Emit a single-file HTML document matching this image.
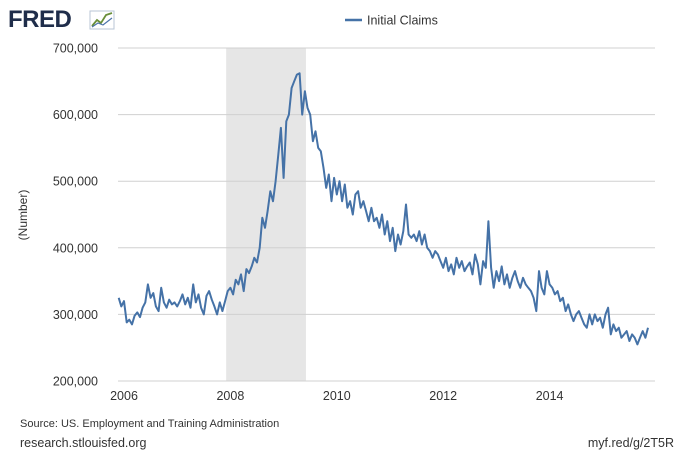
<!DOCTYPE html>
<html><head><meta charset="utf-8"><style>
body{margin:0;background:#fff;font-family:"Liberation Sans",sans-serif;}
svg{display:block}
</style></head><body>
<svg id="chart" width="680" height="451">
<g>
<text x="8" y="27" font-size="24" font-weight="bold" fill="#1f2d4a" font-family="Liberation Sans, sans-serif" letter-spacing="-0.5">FRED</text>
<rect x="90" y="11" width="24" height="18" fill="#fff" stroke="#b8c6d6" stroke-width="1"/>
<polyline points="92,26 97,20 101,23 106,15 112,13" fill="none" stroke="#6a8f3a" stroke-width="1.8"/>
<polyline points="92,27 98,23 103,25 112,18" fill="none" stroke="#4a72a8" stroke-width="1.2"/>
</g>
<g>
<line x1="345" y1="20" x2="362" y2="20" stroke="#4572a7" stroke-width="2.5"/>
<text x="367" y="24.5" font-size="12.5" fill="#333">Initial Claims</text>
</g>
<rect id="rec" fill="#e6e6e6"/>
<g id="grid"></g>
<g id="ylab"></g>
<g id="xlab"></g>
<text transform="translate(27,215) rotate(-90)" text-anchor="middle" font-size="12" fill="#333">(Number)</text>
<path id="line" fill="none" stroke="#4572a7" stroke-width="2" stroke-linejoin="round"/>
<text x="20" y="427" font-size="11" fill="#333">Source: US. Employment and Training Administration</text>
<text x="20" y="447" font-size="12.5" fill="#333">research.stlouisfed.org</text>
<text x="674" y="447" font-size="12.5" fill="#333" text-anchor="end">myf.red/g/2T5R</text>
</svg>
<script>
const startYear = 2005.9;
const stepYear = 0.05;
const claimsK = [
325,312,320,288,292,285,298,303,296,310,318,345,325,332,312,305,340,318,310,322,
315,318,312,320,330,315,325,310,345,318,330,310,300,328,335,322,312,300,318,305,
320,335,340,330,352,345,360,335,368,362,372,385,378,400,445,430,455,485,470,500,
540,580,505,590,600,640,650,660,662,600,635,610,600,560,575,550,545,520,490,510,
470,505,480,500,470,495,460,470,450,480,485,460,470,455,440,460,440,445,430,450,
420,440,410,430,395,420,405,425,465,420,415,420,410,425,405,420,400,395,385,395,
390,380,370,385,365,375,360,385,370,380,365,372,378,360,390,375,345,380,370,440,
370,340,365,350,372,345,360,340,355,365,350,340,355,345,340,335,325,305,365,340,
330,365,345,340,330,335,320,325,305,315,300,290,300,305,295,285,280,300,285,300,
290,295,280,300,310,270,285,275,280,265,270,275,260,270,265,255,265,275,265,280];
const yTicks = [200000,300000,400000,500000,600000,700000];
const yTickLabels = ["200,000","300,000","400,000","500,000","600,000","700,000"];
const xTicks = [2006,2008,2010,2012,2014];
const recession = [2007.92, 2009.42];

const X0=118, X1=655;
const xs = yr => 124 + (yr-2006)*53.2;
const ys = v => 381 - (v-200000)*0.000666;
const NS="http://www.w3.org/2000/svg";
const rec=document.getElementById('rec');
rec.setAttribute('x',xs(recession[0]));rec.setAttribute('width',xs(recession[1])-xs(recession[0]));
rec.setAttribute('y',ys(700000));rec.setAttribute('height',ys(200000)-ys(700000));
const grid=document.getElementById('grid'), yl=document.getElementById('ylab'), xl=document.getElementById('xlab');
yTicks.forEach((t,i)=>{
  const l=document.createElementNS(NS,'line');
  
  
  l.setAttribute('x1',X0);l.setAttribute('x2',X1);l.setAttribute('y1',ys(t));l.setAttribute('y2',ys(t));
  l.setAttribute('stroke','#d0d0d0');l.setAttribute('stroke-width','1');grid.appendChild(l);
  const tx=document.createElementNS(NS,'text');
  
  
  tx.setAttribute('x',98);tx.setAttribute('y',ys(t)+4.5);tx.setAttribute('text-anchor','end');
  tx.setAttribute('font-size','12.5');tx.setAttribute('fill','#333');tx.textContent=yTickLabels[i];yl.appendChild(tx);
});
xTicks.forEach(t=>{
  const tx=document.createElementNS(NS,'text');
  
  
  tx.setAttribute('x',xs(t));tx.setAttribute('y',400);tx.setAttribute('text-anchor','middle');
  tx.setAttribute('font-size','12.5');tx.setAttribute('fill','#333');tx.textContent=t;xl.appendChild(tx);
});
let d='';
claimsK.forEach((v,i)=>{d+=(i?'L':'M')+xs(startYear+i*stepYear).toFixed(1)+','+ys(v*1000).toFixed(1);});
document.getElementById('line').setAttribute('d',d);
</script>
</body></html>
